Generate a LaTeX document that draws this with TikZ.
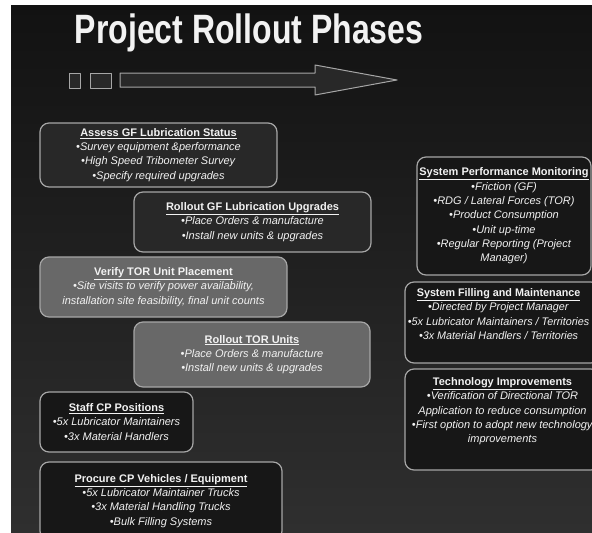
\documentclass[tikz,border=0pt]{standalone}
\usepackage{fontspec}
\setmainfont{Liberation Sans}
\usetikzlibrary{positioning}

\definecolor{bgtop}{HTML}{121212}
\definecolor{bgbot}{HTML}{2F2F2F}
\definecolor{boxline}{HTML}{A6A6A6}
\definecolor{darkfill}{HTML}{282828}
\definecolor{greyfill}{HTML}{686868}
\definecolor{blackfill}{HTML}{171717}
\definecolor{txt}{HTML}{F2F2F2}

\tikzset{
	phase/.style={draw=boxline, line width=1.2pt, rounded corners=9pt, text=txt,
		align=center, inner sep=0pt, font=\fontsize{11}{14.3}\selectfont},
	phasetext/.style={text=txt, align=center, inner sep=0pt,
		font=\fontsize{11}{14.3}\selectfont},
	arrowline/.style={draw=boxline, line width=1pt, fill=darkfill, line join=round},
	title/.style={text=txt, inner sep=0pt, xscale=0.78, font=\fontsize{41}{44}\selectfont\bfseries}
}
\newcommand{\phasehead}[1]{\underline{\textbf{#1}}}
\newcommand{\phaseitem}[1]{\textit{•#1}}

\begin{document}
\begin{tikzpicture}[x=1pt, y=-1pt]
		\useasboundingbox (0,0) rectangle (592,533);
		\clip (11,5) rectangle (592,533);
		\shade[top color=bgtop, bottom color=bgbot] (11,5) rectangle (592,533);
		
		% heading and progress arrow
		\node[title, anchor=base] (head) at (249,43) {Project Rollout Phases};
		\draw[arrowline] (69,73) rectangle (80,88);
		\draw[arrowline] (90,73) rectangle (111,88);
		\draw[arrowline] (120,73) -- (315,73) -- (315,65) -- (397,80)
			-- (315,95) -- (315,87) -- (120,87) -- cycle;
		
		% left column
		\node[phase, fill=darkfill, minimum width=237, minimum height=64] (assess) at (158.5,155)
			{\phasehead{Assess GF Lubrication Status}\\
			 \phaseitem{Survey equipment \&performance}\\
			 \phaseitem{High Speed Tribometer Survey}\\
			 \phaseitem{Specify required upgrades}};
		\node[phase, fill=darkfill, minimum width=237, minimum height=60] (gfroll) at (252.5,222)
			{\phasehead{Rollout GF Lubrication Upgrades}\\
			 \phaseitem{Place Orders \& manufacture}\\
			 \phaseitem{Install new units \& upgrades}};
		\node[phase, fill=greyfill, minimum width=247, minimum height=60] (verify) at (163.5,287)
			{\phasehead{Verify TOR Unit Placement}\\
			 \phaseitem{Site visits to verify power availability,}\\
			 \textit{installation site feasibility, final unit counts}};
		\node[phase, fill=greyfill, minimum width=236, minimum height=65] (torroll) at (252,354.5)
			{\phasehead{Rollout TOR Units}\\
			 \phaseitem{Place Orders \& manufacture}\\
			 \phaseitem{Install new units \& upgrades}};
		\node[phase, fill=blackfill, minimum width=153, minimum height=60] (staff) at (116.5,422)
			{\phasehead{Staff CP Positions}\\
			 \phaseitem{5x Lubricator Maintainers}\\
			 \phaseitem{3x Material Handlers}};
		\node[phase, fill=blackfill, minimum width=242, minimum height=78] (procure) at (161,501)
			{\phasehead{Procure CP Vehicles / Equipment}\\
			 \phaseitem{5x Lubricator Maintainer Trucks}\\
			 \phaseitem{3x Material Handling Trucks}\\
			 \phaseitem{Bulk Filling Systems}};
		
		% right column
		\node[phase, fill=blackfill, minimum width=174, minimum height=118] (monitor) at (504,216)
			{\phasehead{System Performance Monitoring}\\
			 \phaseitem{Friction (GF)}\\
			 \phaseitem{RDG / Lateral Forces (TOR)}\\
			 \phaseitem{Product Consumption}\\
			 \phaseitem{Unit up-time}\\
			 \phaseitem{Regular Reporting (Project}\\
			 \textit{Manager)}};
		\node[phase, fill=blackfill, minimum width=195, minimum height=81] (filling) at (502.5,322.5) {};
		\node[phasetext, xscale=0.98, below=7pt of filling.north, xshift=-4pt] (fillingtext)
			{\phasehead{System Filling and Maintenance}\\
			 \phaseitem{Directed by Project Manager}\\
			 \phaseitem{5x Lubricator Maintainers / Territories}\\
			 \phaseitem{3x Material Handlers / Territories}};
		\node[phase, fill=blackfill, minimum width=195, minimum height=101] (techimp) at (502.5,419.5) {};
		\node[phasetext, below=9pt of techimp.north] (techimptext)
			{\phasehead{Technology Improvements}\\
			 \phaseitem{Verification of Directional TOR}\\
			 \textit{Application to reduce consumption}\\
			 \phaseitem{First option to adopt new technology}\\
			 \textit{improvements}};
\end{tikzpicture}
\end{document}
